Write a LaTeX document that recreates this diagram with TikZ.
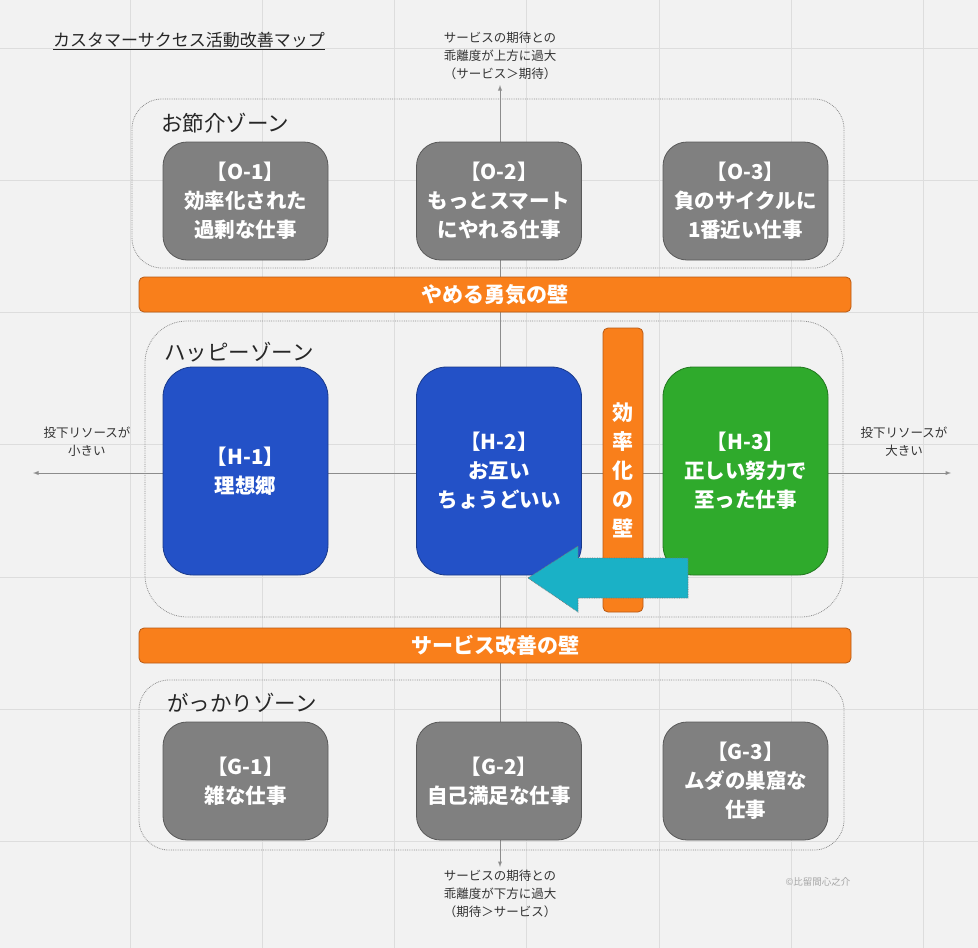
\documentclass[tikz,border=0pt]{standalone}
\usepackage{fontspec}
\setmainfont{Noto Sans CJK JP}
\usetikzlibrary{arrows,positioning}

\definecolor{bgcol}{HTML}{F2F2F2}
\definecolor{gridcol}{HTML}{DDDDDD}
\definecolor{cardgray}{HTML}{808080}
\definecolor{happyblue}{HTML}{2351C7}
\definecolor{rightgreen}{HTML}{2FAA2C}
\definecolor{wallorange}{HTML}{F97F1B}
\definecolor{wallborder}{HTML}{B85A14}
\definecolor{backcyan}{HTML}{1AB1C6}
\definecolor{axisgray}{HTML}{8C8C8C}

\tikzset{
  gridline/.style  = {draw=gridcol, line width=0.9pt},
  axis/.style      = {draw=axisgray, line width=0.9pt},
  axislabel/.style = {align=center, inner sep=0pt, text=black!80,
                      font=\fontsize{12.5}{18}\selectfont},
  zone/.style      = {draw=axisgray, densely dotted, line width=0.8pt},
  zonelabel/.style = {anchor=west, inner sep=0pt, text=black!85,
                      font=\fontsize{21.5}{24}\selectfont},
  card/.style      = {draw=black!65, line width=0.8pt, rounded corners=24pt,
                      minimum width=165pt, minimum height=118pt, inner sep=0pt,
                      align=center, text=white, font=\bfseries\fontsize{20.5}{29}\selectfont},
  gray card/.style = {card, fill=cardgray},
  blue card/.style = {card, fill=happyblue, draw=happyblue!70!black,
                      rounded corners=30pt, minimum height=208pt},
  wall/.style      = {draw=wallborder, fill=wallorange, line width=0.8pt,
                      rounded corners=5pt, inner sep=0pt, text=white,
                      font=\bfseries\fontsize{21}{29}\selectfont}
}

\begin{document}
\begin{tikzpicture}[x=1pt, y=-1pt, >=latex]
\useasboundingbox[fill=bgcol] (0,0) rectangle (978,948);

% background grid
\foreach \i in {0,...,6} {
  \draw[gridline] ({130+132.3*\i},0) -- ({130+132.3*\i},948);
  \draw[gridline] (0,{48+132.3*\i}) -- (978,{48+132.3*\i});
}

% title
\node[anchor=west, inner sep=0pt, text=black!85, font=\fontsize{17}{20}\selectfont]
  (title) at (53,41) {\underline{カスタマーサクセス活動改善マップ}};

% axes and their labels
\coordinate (axtop)   at (500,85);
\coordinate (axbot)   at (500,867);
\coordinate (axleft)  at (33,473);
\coordinate (axright) at (951,473);
\draw[axis,<->] (axbot) -- (axtop);
\draw[axis,<->] (axleft) -- (axright);

\node[axislabel] (uplabel)    at (500,56)  {サービスの期待との\\乖離度が上方に過大\\（サービス＞期待）};
\node[axislabel] (downlabel)  at (500,894) {サービスの期待との\\乖離度が下方に過大\\（期待＞サービス）};
\node[axislabel] (leftlabel)  at (87,442)  {投下リソースが\\小きい};
\node[axislabel] (rightlabel) at (904,442) {投下リソースが\\大きい};

% zones
\node[zone, rounded corners=30pt, minimum width=712pt, minimum height=169pt] (ozone) at (488,183.5) {};
\node[zone, rounded corners=42pt, minimum width=698pt, minimum height=296pt] (hzone) at (494,469) {};
\node[zone, rounded corners=30pt, minimum width=705pt, minimum height=170pt] (gzone) at (491.5,765) {};

\node[zonelabel] (ozonelabel) at (161,123) {お節介ゾーン};
\node[zonelabel] (hzonelabel) at (164,352) {ハッピーゾーン};
\node[zonelabel] (gzonelabel) at (167,703) {がっかりゾーン};

% お節介ゾーン
\node[gray card] (o1) at (245.5,201) {【O-1】\\効率化された\\過剰な仕事};
\node[gray card] (o2) at (499,201)   {【O-2】\\もっとスマート\\にやれる仕事};
\node[gray card] (o3) at (745.5,201) {【O-3】\\負のサイクルに\\1番近い仕事};

% ハッピーゾーン
\node[blue card] (h1) at (245.5,471) {【H-1】\\理想郷};
\node[blue card] (h2) at (499,471)   {【H-2】\\お互い\\ちょうどいい};
\node[blue card, fill=rightgreen, draw=rightgreen!70!black] (h3) at (745.5,471)
  {【H-3】\\正しい努力で\\至った仕事};

% がっかりゾーン
\node[gray card] (g1) at (245.5,781) {【G-1】\\雑な仕事};
\node[gray card] (g2) at (499,781)   {【G-2】\\自己満足な仕事};
\node[gray card] (g3) at (745.5,781) {【G-3】\\ムダの巣窟な\\仕事};

% walls
\node[wall, minimum width=712pt, minimum height=35pt] (quitwall)    at (495,294.5) {やめる勇気の壁};
\node[wall, minimum width=712pt, minimum height=35pt] (servicewall) at (495,645.5) {サービス改善の壁};
\node[wall, minimum width=40pt, minimum height=284pt, align=center] (effwall) at (623,470)
  {効\\率\\化\\の\\壁};

% way back from H-3 to H-2
\draw[fill=backcyan, draw=black!55, densely dotted, line width=0.7pt]
  (688,558) -- (578,558) -- (578,546) -- (528,578) -- (578,612) -- (578,598) -- (688,598) -- cycle;

% credit
\node[inner sep=0pt, text=black!35, font=\fontsize{9.5}{11}\selectfont] (credit) at (818,882) {©比留間心之介};
\end{tikzpicture}
\end{document}
